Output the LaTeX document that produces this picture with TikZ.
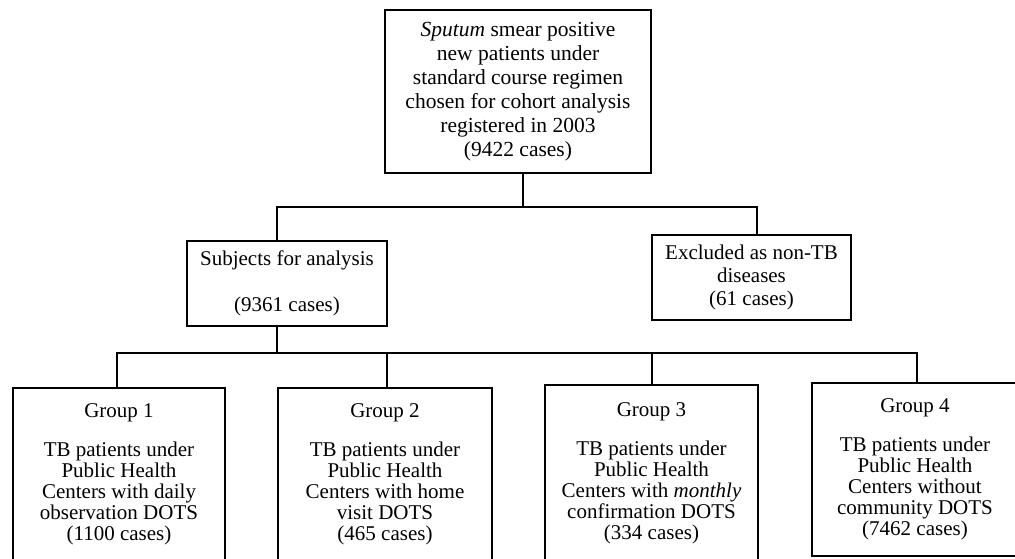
\documentclass[tikz,border=0pt]{standalone}
\usepackage{fontspec}
\setmainfont{Liberation Serif}
\usetikzlibrary{calc}
\begin{document}
\begin{tikzpicture}[x=1pt,y=-1pt,
  box/.style={draw, line width=1.2pt, align=center, inner sep=0pt},
  wide/.style={font=\fontsize{21.5}{24}\selectfont},
  grp/.style={font=\fontsize{21}{21}\selectfont},
  conn/.style={line width=1.2pt}]
\useasboundingbox (0,0) rectangle (1015,559);
\clip (0,0) rectangle (1015,559);
\node[box, wide, minimum width=266pt, minimum height=163pt] (top) at (518,91.5)
  {\textit{Sputum} smear positive\\new patients under\\standard course regimen\\chosen for cohort analysis\\registered in 2003\\(9422 cases)};
\node[box, font=\fontsize{21}{23}\selectfont, minimum width=200pt, minimum height=85pt] (sub) at (287,283.5)
  {Subjects for analysis\\[23pt](9361 cases)};
\node[box, font=\fontsize{21}{23}\selectfont, minimum width=199pt, minimum height=85pt] (exc) at (751.5,277.5)
  {Excluded as non-TB\\diseases\\(61 cases)};
\node[box, grp, minimum width=212pt, minimum height=173pt] (g1) at (119,474.5)
  {Group 1\\[18pt]TB patients under\\Public Health\\Centers with daily\\observation DOTS\\(1100 cases)};
\node[box, grp, minimum width=214pt, minimum height=173pt] (g2) at (385,474.5)
  {Group 2\\[18pt]TB patients under\\Public Health\\Centers with home\\visit DOTS\\(465 cases)};
\node[box, grp, minimum width=213pt, minimum height=176pt] (g3) at (651.5,473)
  {Group 3\\[18pt]TB patients under\\Public Health\\Centers with \textit{monthly}\\confirmation DOTS\\(334 cases)};
\node[box, grp, minimum width=206pt, minimum height=173pt] (g4) at (915,469.5)
  {Group 4\\[18pt]TB patients under\\Public Health\\Centers without\\community DOTS\\(7462 cases)};
\coordinate (subin) at ($(sub.north)+(-10,0)$);
\coordinate (excin) at ($(exc.north)+(5.5,0)$);
\coordinate (subout) at ($(sub.south)+(-10,0)$);
\coordinate (topout) at ($(top.south)+(5,0)$);
\coordinate (bar1) at (0,207);
\coordinate (bar2) at (0,353);
\draw[conn] (topout) -- (topout |- bar1);
\draw[conn] (subin) -- (subin |- bar1) -| (excin);
\draw[conn] (subout) -- (subout |- bar2);
\draw[conn] ($(g1.north)+(-2,0)$) -- ($(g1.north |- bar2)+(-2,0)$) -- ($(g4.north |- bar2)+(2,0)$) -- ($(g4.north)+(2,0)$);
\draw[conn] ($(g2.north)+(2,0)$) -- ($(g2.north |- bar2)+(2,0)$);
\draw[conn] ($(g3.north)+(0.5,0)$) -- ($(g3.north |- bar2)+(0.5,0)$);
\end{tikzpicture}
\end{document}
